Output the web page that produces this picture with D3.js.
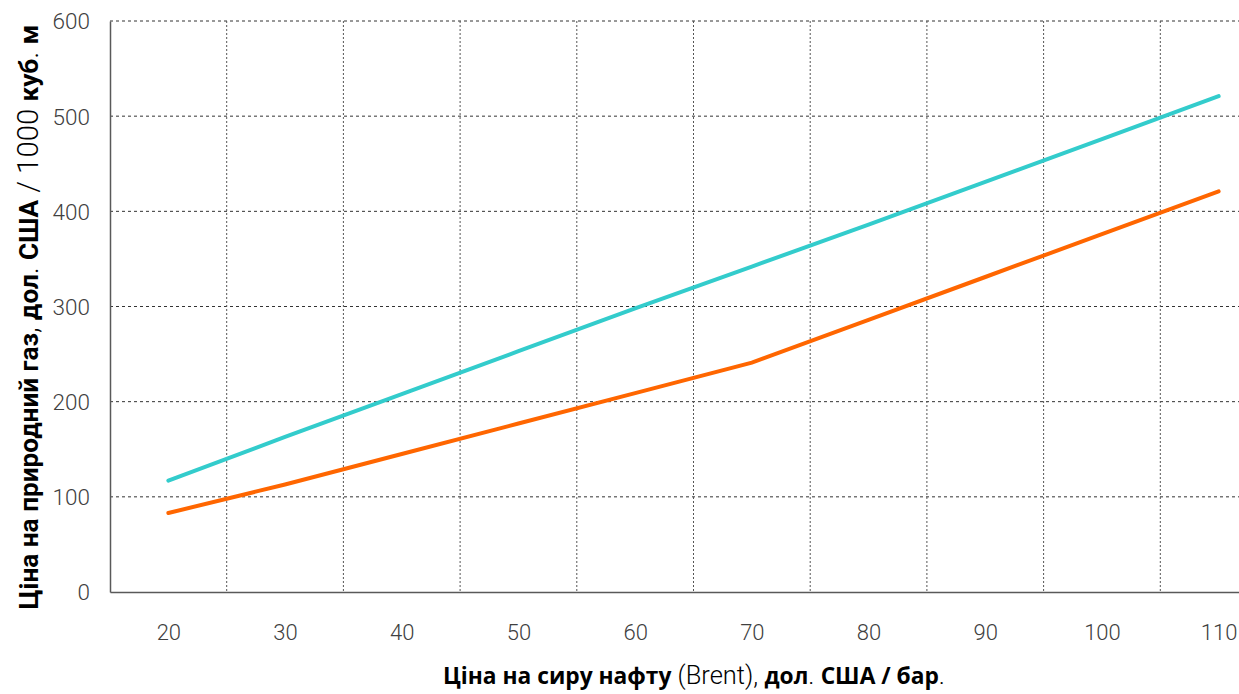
<!DOCTYPE html>
<html><head><meta charset="utf-8">
<script src="https://cdn.jsdelivr.net/npm/d3@7"></script>
<style>
html,body{margin:0;padding:0;background:#fff;overflow:hidden;}
svg{display:block;}
</style></head>
<body>
<svg id="chart" width="1239" height="694"></svg>
<script>
const categories = [20, 30, 40, 50, 60, 70, 80, 90, 100, 110];
const seriesCyan = [117, 163, 208, 253, 298, 342, 386, 431, 476, 521];
const seriesOrange = [83, 113, 145, 177, 209, 241, 286, 331, 376, 421];
const yTicks = [0, 100, 200, 300, 400, 500, 600];

const svg = d3.select("#chart");
const mLeft = 110, mTop = 21, mBottom = 592, mRight = 1277;

const x = d3.scalePoint().domain(categories).range([mLeft, mRight]).padding(0.5);
const y = d3.scaleLinear().domain([0, 600]).range([mBottom, mTop]);
const step = x.step();

// horizontal grid
svg.append("g").selectAll("line").data(yTicks.filter(d => d > 0)).join("line")
  .attr("x1", mLeft).attr("x2", 1239)
  .attr("y1", d => y(d)).attr("y2", d => y(d))
  .attr("stroke", "#333").attr("stroke-width", 1).attr("stroke-dasharray", "3,3");

// vertical grid at category boundaries
svg.append("g").selectAll("line").data(categories.slice(1)).join("line")
  .attr("x1", d => x(d) - step / 2).attr("x2", d => x(d) - step / 2)
  .attr("y1", mTop).attr("y2", mBottom)
  .attr("stroke", "#555").attr("stroke-width", 1).attr("stroke-dasharray", "2,2");

// axes
const yAxis = d3.axisLeft(y).tickValues(yTicks).tickSize(0).tickPadding(20);
const gy = svg.append("g").attr("transform", `translate(${mLeft},0)`).call(yAxis);
gy.select(".domain").attr("stroke", "#595959").attr("stroke-width", 1.5);
gy.selectAll("text").attr("font-family", "Roboto").attr("font-weight", 300)
  .attr("font-size", 22.5).attr("fill", "#404040").attr("dy", "0.35em");

const xAxis = d3.axisBottom(x).tickSize(0).tickPadding(32);
const gx = svg.append("g").attr("transform", `translate(0,${mBottom})`).call(xAxis);
gx.select(".domain").attr("stroke", "#595959").attr("stroke-width", 1.5);
gx.selectAll("text").attr("font-family", "Roboto").attr("font-weight", 300)
  .attr("font-size", 22).attr("fill", "#404040");

// lines
const line = d3.line().x((d, i) => x(categories[i])).y(d => y(d));
svg.append("path").datum(seriesCyan).attr("d", line)
  .attr("fill", "none").attr("stroke", "#33CCCC").attr("stroke-width", 4).attr("stroke-linecap", "round");
svg.append("path").datum(seriesOrange).attr("d", line)
  .attr("fill", "none").attr("stroke", "#FF6600").attr("stroke-width", 4).attr("stroke-linecap", "round");

function richText(g, parts, boldFamily, size, targetLen) {
  parts.forEach(p => {
    g.append("tspan").text(p[0])
      .attr("font-family", p[1] ? boldFamily : "Roboto")
      .attr("font-weight", p[1] ? 700 : 300)
      .attr("font-size", p[1] ? "1em" : "1.12em");
  });
  g.attr("font-size", size);
  const len = g.node().getComputedTextLength();
  if (len > 0) g.attr("font-size", size * targetLen / len);
}

// x axis title
const xt = svg.append("text").attr("x", 694).attr("y", 684)
  .attr("text-anchor", "middle").attr("fill", "#000");
richText(xt, [["Ціна на сиру нафту", true], [" (Brent), ", false], ["дол", true], [". ", false],
  ["США / бар", true], [".", false]], "Open Sans", 20, 502);

// y axis title
const yt = svg.append("text").attr("transform", "translate(38,317) rotate(-90)")
  .attr("text-anchor", "middle").attr("fill", "#000");
richText(yt, [["Ціна на природний газ", true], [", ", false], ["дол", true], [". ", false],
  ["США", true], ["  / 1000 ", false], ["куб", true], [". ", false], ["м", true]], "Roboto", 22, 585);
</script>
</body></html>
